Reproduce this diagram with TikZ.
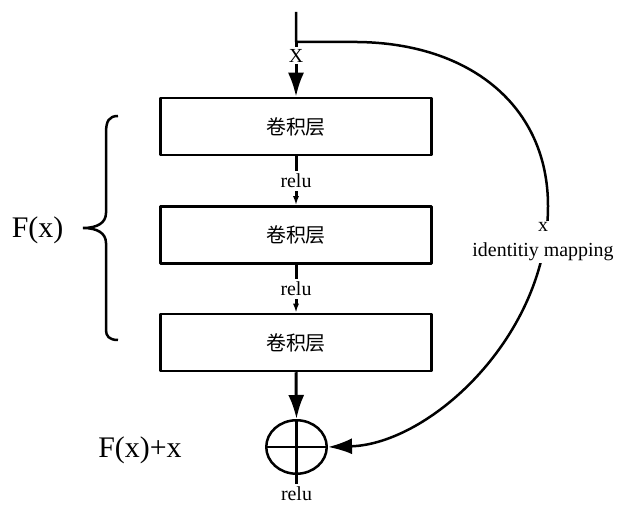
\documentclass[tikz,border=0pt]{standalone}
\usepackage{fontspec}
\setmainfont{Liberation Serif}
\newfontfamily\cjk{Noto Sans CJK SC}
\usetikzlibrary{arrows.meta,shapes.geometric}
\tikzset{
  layer/.style={draw,line width=2.5bp,minimum width=271bp,minimum height=57bp,inner sep=0pt,font=\cjk\fontsize{20}{24}\selectfont},
  lbl/.style={font=\fontsize{20}{25}\selectfont,inner sep=2bp},
  biglbl/.style={font=\fontsize{30}{36}\selectfont,inner sep=0pt,anchor=base},
  bigarrow/.style={line width=3bp,-{Latex[length=24bp,width=16bp]}},
  smallarrow/.style={line width=3bp,-{Latex[length=9bp,width=6bp]}},
}
\begin{document}
\begin{tikzpicture}[>=latex,line join=bevel,]
\useasboundingbox (0bp,0bp) rectangle (617bp,506bp);
%%
\node (conv1) at (296bp,379.5bp) [layer] {卷积层};
  \node (conv2) at (296bp,271bp) [layer] {卷积层};
  \node (conv3) at (296bp,163.5bp) [layer] {卷积层};
  \node (sum) at (296.5bp,59bp) [draw,ellipse,line width=2.5bp,minimum width=60.5bp,minimum height=53.5bp,inner sep=0pt] {};
  \node (relu3) at (296.5bp,6bp) [lbl,anchor=base] {relu};
  \coordinate (top) at (296bp,494bp);
  \coordinate (split) at (296bp,464bp);
%
  \draw [bigarrow] (split) -- node[lbl,fill=white,pos=0.25] (xin) {X} (conv1.north);
  \draw [smallarrow] (conv1.south) -- node[lbl,fill=white,inner sep=3bp] (relu1) {relu} (conv2.north);
  \draw [smallarrow] (conv2.south) -- node[lbl,fill=white,inner sep=3bp] (relu2) {relu} (conv3.north);
  \draw [bigarrow] (conv3.south) -- (sum.north);
  \draw [line width=2.5bp] (sum.north) -- (relu3.north);
  \draw [line width=2.5bp] (sum.west) -- (sum.east);
%% shortcut path
  \draw [line width=2.5bp,-{Latex[length=24bp,width=16bp]}] (top) -- (split) -- (357bp,464bp)
    ..controls (470bp,463bp) and (548bp,400bp) .. (548bp,300bp)
    ..controls (548bp,170bp) and (430bp,62bp) .. (sum.east);
  \node (idmap) at (543bp,264bp) [lbl,fill=white,align=center] {x\\identitiy mapping};
%% brace round the three layers
  \draw [line width=2.5bp] (118bp,390bp) ..controls (109bp,390bp) and (106bp,385bp) .. (106bp,373bp)
    -- (106bp,293bp) ..controls (106bp,283bp) and (97bp,278bp) .. (83bp,278bp)
    ..controls (97bp,278bp) and (106bp,273bp) .. (106bp,263bp)
    -- (106bp,176bp) ..controls (106bp,170bp) and (109bp,166bp) .. (118bp,166bp);
  \node (fx) at (37.5bp,268bp) [biglbl] {F(x)};
  \node (fxx) at (140bp,48bp) [biglbl] {F(x)+x};
%
\end{tikzpicture}
\end{document}
